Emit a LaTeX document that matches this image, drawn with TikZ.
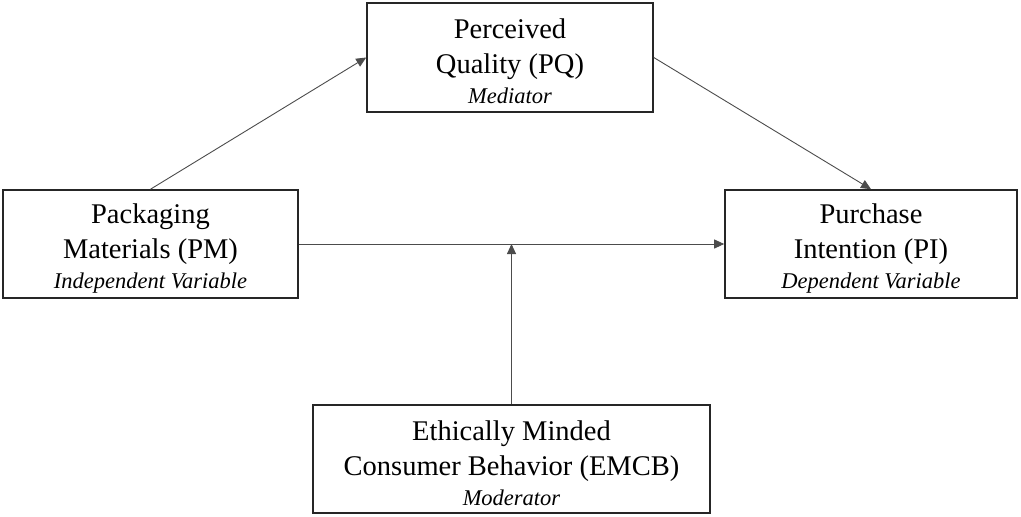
\documentclass[tikz,border=0pt]{standalone}
\usepackage{fontspec}
\setmainfont{Liberation Serif}
\usetikzlibrary{arrows.meta}
\begin{document}
\begin{tikzpicture}[x=1pt,y=-1pt,
  varbox/.style={draw=black!85,line width=1.6pt,align=center,inner sep=0pt,
    font=\fontsize{28.5}{35}\selectfont},
  link/.style={draw=black!70,line width=0.9pt,-{Triangle[length=10pt,width=9pt]}}]
\useasboundingbox (0,0) rectangle (1021,517);
\newcommand{\rolefont}{\fontsize{22.5}{24}\selectfont\itshape}
\newcommand{\topline}{\rule{0pt}{28pt}}
\node[varbox,minimum width=286pt,minimum height=109pt] (PQ) at (510,57.5)
  {\topline Perceived\\Quality (PQ)\\[-5pt]{\rolefont Mediator}};
\node[varbox,minimum width=295pt,minimum height=108pt] (PM) at (150.5,244)
  {\topline Packaging\\Materials (PM)\\[-5pt]{\rolefont Independent Variable}};
\node[varbox,minimum width=292pt,minimum height=108pt] (PI) at (871,244)
  {\topline Purchase\\Intention (PI)\\[-5pt]{\rolefont Dependent Variable}};
\node[varbox,minimum width=397pt,minimum height=108pt] (EM) at (511.5,459)
  {\topline Ethically Minded\\Consumer Behavior (EMCB)\\[-5pt]{\rolefont Moderator}};
\coordinate (J) at (EM.north |- PM.east);
\draw[link] (PM.north) -- (PQ.west);
\draw[link] (PQ.east) -- (PI.north);
\draw[link] (PM.east) -- (PI.west);
\draw[link] (EM.north) -- (J);
\end{tikzpicture}
\end{document}
